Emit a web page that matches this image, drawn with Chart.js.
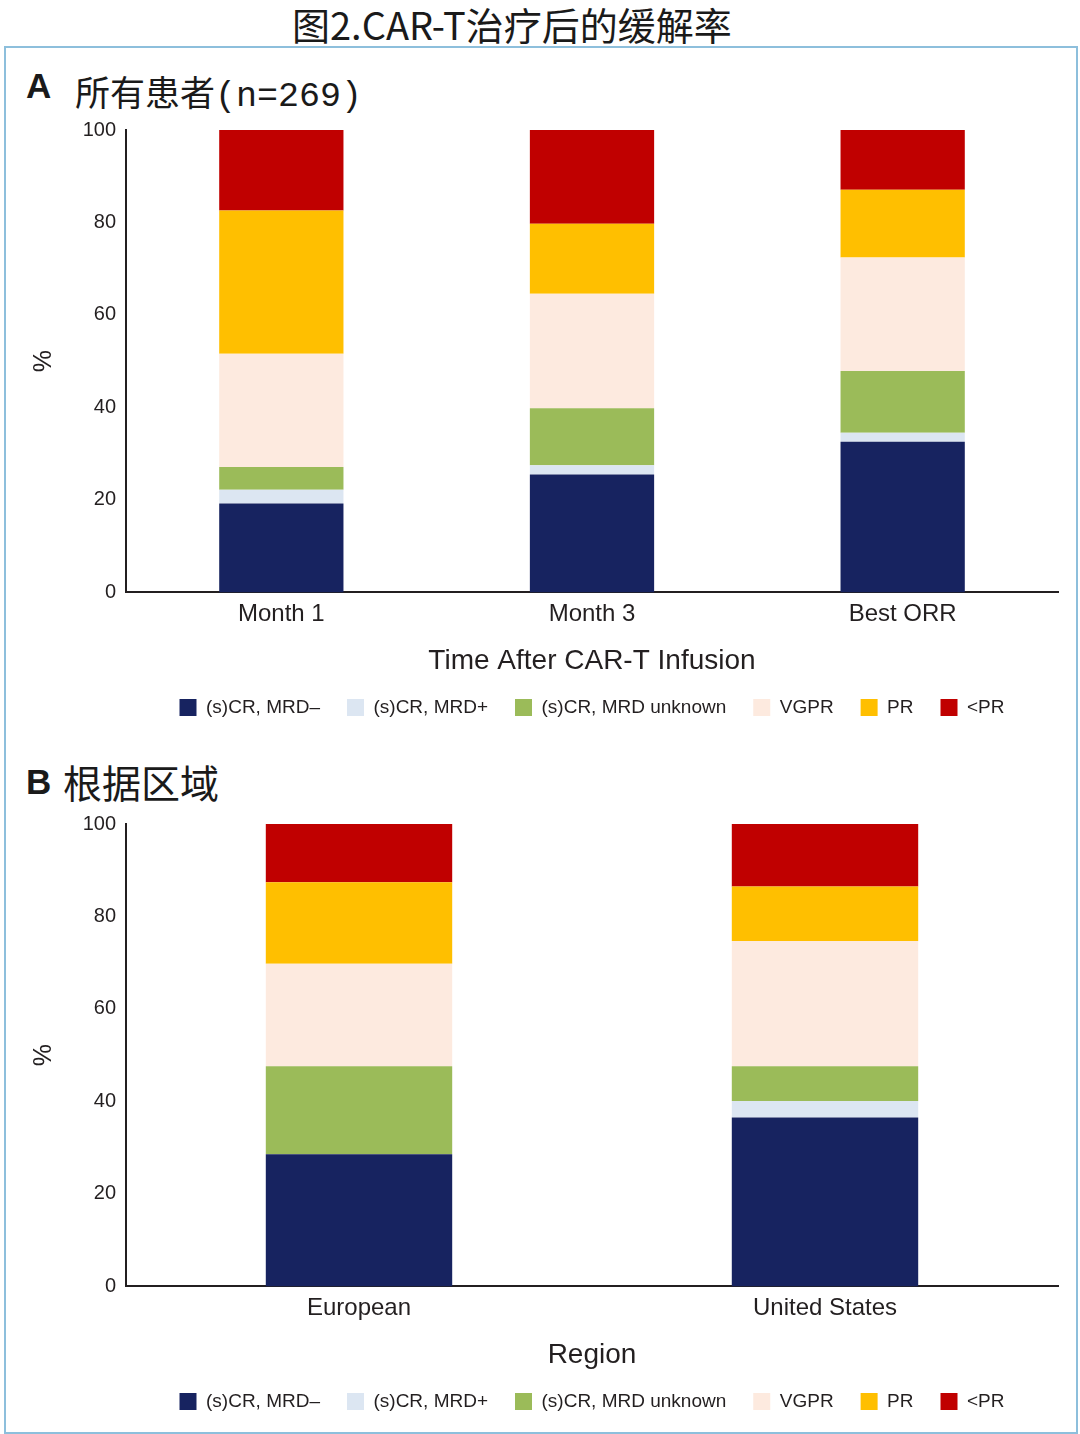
<!DOCTYPE html>
<html>
<head>
<meta charset="utf-8">
<script src="https://cdn.jsdelivr.net/npm/chart.js@4.4.0/dist/chart.umd.js"></script>
<style>
    html, body { margin: 0; padding: 0; background: #fff; width: 1080px; height: 1434px; overflow: hidden; }
    #page { position: relative; width: 1080px; height: 1434px; overflow: hidden; }
    .txt { position: absolute; white-space: nowrap; color: #1a1a1a; }
</style>
</head>
<body>
<div id="page">
    <div class="txt" style="left: 292px; top: -4px; font-family: 'Noto Sans CJK SC'; font-size: 38px;">图2.CAR-T治疗后的缓解率</div>
    <div style="position: absolute; left: 4px; top: 46px; width: 1070px; height: 1384px; border: 2px solid #8dbfdc;"></div>

    <div class="txt" style="left: 26px; top: 66px; font-family: 'Liberation Sans'; font-weight: 700; font-size: 35px;">A</div>
    <div class="txt" style="left: 75px; top: 73px; font-family: 'Liberation Mono', 'Noto Sans CJK SC'; font-size: 35px; line-height: 48px;">所有患者(n=269)</div>

    <div class="txt" style="left: 26px; top: 762px; font-family: 'Liberation Sans'; font-weight: 700; font-size: 35px;">B</div>
    <div class="txt" style="left: 63px; top: 757px; font-family: 'Noto Sans CJK SC'; font-size: 39px; line-height: 48px;">根据区域</div>

    <canvas id="chartA" width="1184" height="625" style="position: absolute; left: 0; top: 115px;"></canvas>
    <canvas id="chartB" width="1184" height="625" style="position: absolute; left: 0; top: 809px;"></canvas>
</div>

<script>
// Legend / series names
const seriesNames = ['(s)CR, MRD\u2013', '(s)CR, MRD+', '(s)CR, MRD unknown', 'VGPR', 'PR', '<PR'];
const seriesColors = ['#172360', '#dce6f2', '#9bbb59', '#fdeadf', '#ffbf00', '#c00000'];

// Panel A - all patients (n=269), % by time after infusion
const categoriesA = ['Month 1', 'Month 3', 'Best ORR'];
const mrdNegA = [19.2, 25.5, 32.6];
const mrdPosA = [3.0, 2.0, 1.9];
const mrdUnkA = [4.9, 12.3, 13.4];
const vgprA = [24.5, 24.8, 24.5];
const prA = [31.0, 15.1, 14.7];
const ltPrA = [17.4, 20.3, 12.9];

// Panel B - by region
const categoriesB = ['European', 'United States'];
const mrdNegB = [28.6, 36.5];
const mrdPosB = [0, 3.6];
const mrdUnkB = [19.0, 7.5];
const vgprB = [22.2, 27.1];
const prB = [17.6, 11.8];
const ltPrB = [12.6, 13.5];

const yTicks = [0, 20, 40, 60, 80, 100];

const axisColor = '#231f20';
const sansFont = "'Liberation Sans', Arial, sans-serif";

function buildDatasets(seriesList) {
    return seriesList.map((values, i) => ({
        label: seriesNames[i],
        data: values,
        backgroundColor: seriesColors[i],
        borderWidth: 0,
        barPercentage: 0.4,
        categoryPercentage: 1.0
    }));
}

function makeChart(canvasId, labels, seriesList, xTitle) {
    const ctx = document.getElementById(canvasId);
    return new Chart(ctx, {
        type: 'bar',
        data: {
            labels: labels,
            datasets: buildDatasets(seriesList)
        },
        options: {
            responsive: false,
            animation: false,
            devicePixelRatio: 1,
            layout: {
                padding: { top: 15, right: 0, bottom: 13, left: 0 }
            },
            plugins: {
                tooltip: { enabled: false },
                legend: {
                    position: 'bottom',
                    labels: {
                        boxWidth: 17,
                        boxHeight: 17,
                        padding: 27,
                        color: axisColor,
                        font: { family: sansFont, size: 19 }
                    }
                }
            },
            scales: {
                x: {
                    stacked: true,
                    grid: { display: false, drawTicks: false },
                    border: { display: true, color: axisColor, width: 2 },
                    ticks: {
                        color: axisColor,
                        padding: 10,
                        font: { family: sansFont, size: 24, lineHeight: 1.0 }
                    },
                    title: {
                        display: true,
                        text: xTitle,
                        color: axisColor,
                        padding: { top: 22, bottom: 7 },
                        font: { family: sansFont, size: 28, lineHeight: 0.2 }
                    }
                },
                y: {
                    stacked: true,
                    min: 0,
                    max: 100,
                    afterFit: (scale) => { scale.width = 126; },
                    afterBuildTicks: (scale) => { scale.ticks = yTicks.map(v => ({ value: v })); },
                    grid: { display: false, drawTicks: false },
                    border: { display: true, color: axisColor, width: 2 },
                    ticks: {
                        color: axisColor,
                        padding: 10,
                        font: { family: sansFont, size: 20, lineHeight: 0.5 }
                    },
                    title: {
                        display: true,
                        text: '%',
                        color: axisColor,
                        padding: { top: 29, bottom: 0 },
                        font: { family: sansFont, size: 25 }
                    }
                },
                // empty right axis so the plot and legend share the same centre
                yPad: {
                    type: 'linear',
                    position: 'right',
                    display: true,
                    afterFit: (scale) => { scale.width = 126; },
                    grid: { display: false, drawTicks: false },
                    border: { display: false },
                    ticks: { display: false }
                }
            }
        }
    });
}

makeChart('chartA', categoriesA,
    [mrdNegA, mrdPosA, mrdUnkA, vgprA, prA, ltPrA],
    'Time After CAR-T Infusion');

makeChart('chartB', categoriesB,
    [mrdNegB, mrdPosB, mrdUnkB, vgprB, prB, ltPrB],
    'Region');
</script>
</body>
</html>
